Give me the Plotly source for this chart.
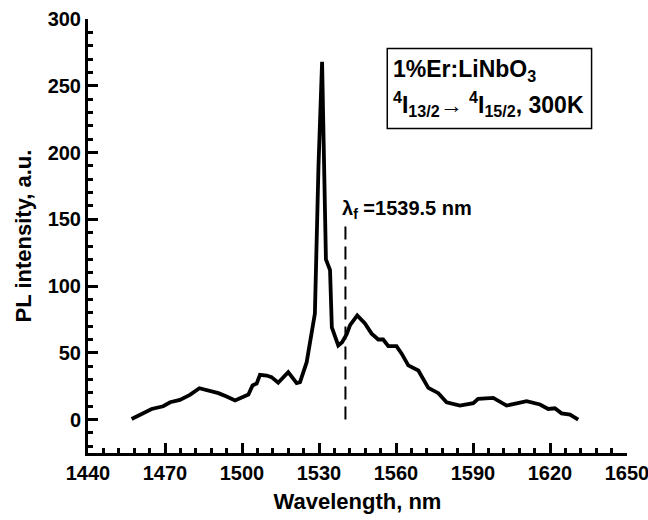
import plotly.graph_objects as go

wavelength = [1457.0, 1459.0, 1462.0, 1464.8, 1469.3, 1472.0, 1475.8, 1479.7, 1483.4, 1487.5,
              1490.8, 1494.0, 1497.3, 1502.5, 1504.1, 1505.7, 1507.0, 1509.6, 1511.5, 1514.1,
              1518.0, 1521.3, 1522.6, 1525.2, 1527.1, 1528.4, 1529.8, 1531.2, 1532.7, 1534.3,
              1535.0, 1537.5, 1539.0, 1540.1, 1540.8, 1542.1, 1544.9, 1547.9, 1550.5, 1553.1,
              1555.0, 1557.0, 1560.2, 1562.2, 1564.8, 1568.7, 1572.6, 1576.5, 1579.7, 1584.9,
              1590.1, 1592.0, 1597.9, 1603.1, 1607.0, 1610.9, 1616.1, 1619.3, 1621.9, 1624.5,
              1627.8, 1631.0]
intensity = [0.5, 2.5, 5, 8, 10, 13, 14.8, 18.5, 23.5, 21.8,
             19.8, 17.3, 14.3, 18.8, 25.6, 27, 33.6, 33, 31.8, 27.6,
             35.6, 27.3, 28, 43, 64, 79.5, 190, 268, 120, 112,
             69, 55.5, 58, 61, 64, 70.7, 78, 72, 64.4, 60,
             60, 55, 55, 49.4, 40.6, 36.8, 23.8, 19.8, 13, 10.5,
             12.3, 15.5, 16.3, 10.5, 12.3, 13.8, 11.3, 8, 8.5, 4.7,
             3.8, 0]

x_range = [1440, 1650]
x_major_step = 30
x_minor_step = 6
y_range = [-25, 300]
y_major_step = 50
y_minor_step = 10

lambda_f_label = "1539.5"
lambda_f_line_x = [1540.3, 1540.3]
lambda_f_line_y = [0, 146]

FONT = "Liberation Sans, Arial, sans-serif"

fig = go.Figure()
fig.add_trace(go.Scatter(x=wavelength, y=intensity, mode="lines",
                         line=dict(color="black", width=3.8), showlegend=False))
fig.add_trace(go.Scatter(x=lambda_f_line_x, y=lambda_f_line_y, mode="lines",
                         line=dict(color="black", width=2, dash="13px,7px"), showlegend=False))

fig.add_annotation(x=1538.0, y=157, xref="x", yref="y", xanchor="left", yanchor="middle",
                   text="<b>λ<sub>f</sub> =" + lambda_f_label + " nm</b>", showarrow=False,
                   font=dict(family=FONT, size=20, color="black"))

fig.add_shape(type="rect", xref="x", yref="y", x0=1556.6, x1=1636.2, y0=218, y1=278,
              line=dict(color="black", width=1.5), fillcolor="white", layer="above")
fig.add_annotation(x=1558.0, y=261.5, xref="x", yref="y", xanchor="left", yanchor="middle",
                   text="<b>1%Er:LiNbO<sub>3</sub></b>", showarrow=False,
                   font=dict(family=FONT, size=23, color="black"))
fig.add_annotation(x=1558.0, y=236, xref="x", yref="y", xanchor="left", yanchor="middle",
                   text="<b><sup>4</sup>I<sub>13/2</sub>→ <sup>4</sup>I<sub>15/2</sub>, 300K</b>",
                   showarrow=False, font=dict(family=FONT, size=23, color="black"))

axis_common = dict(showgrid=False, zeroline=False, showline=True, linecolor="black", linewidth=3,
                   ticks="inside", ticklen=10, tickwidth=2.5, tickcolor="black",
                   ticklabeloverflow="allow", tickmode="linear",
                   tickfont=dict(family=FONT, size=20, color="black", weight="bold"), mirror=False)

fig.update_xaxes(range=x_range, tick0=x_range[0], dtick=x_major_step,
                 minor=dict(dtick=x_minor_step, tick0=x_range[0], ticks="inside", ticklen=5,
                            tickwidth=2.5, tickcolor="black", showgrid=False),
                 title=dict(text="Wavelength, nm",
                            font=dict(family=FONT, size=22, color="black", weight="bold"),
                            standoff=11),
                 **axis_common)
fig.update_yaxes(range=y_range, tick0=0, dtick=y_major_step,
                 minor=dict(dtick=y_minor_step, tick0=0, ticks="inside", ticklen=5,
                            tickwidth=2.5, tickcolor="black", showgrid=False),
                 title=dict(text="PL intensity, a.u.",
                            font=dict(family=FONT, size=22, color="black", weight="bold"),
                            standoff=10),
                 **axis_common)

fig.update_layout(width=648, height=520, margin=dict(l=88, r=21, t=19, b=67, autoexpand=False),
                  plot_bgcolor="white", paper_bgcolor="white")

fig.write_html("out.html", config={"displayModeBar": False},
               post_script="document.body.style.margin='0';document.body.style.overflow='hidden';")
